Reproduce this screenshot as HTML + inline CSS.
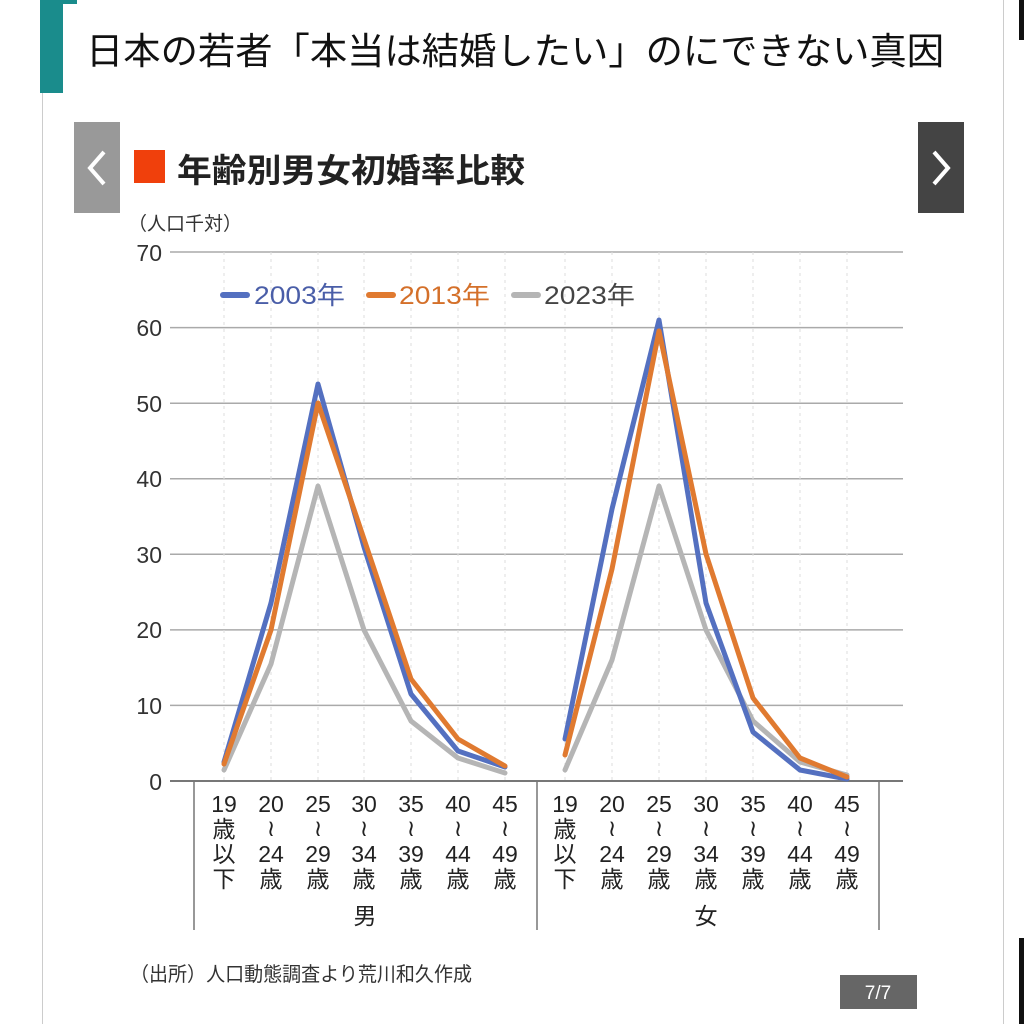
<!DOCTYPE html>
<html><head><meta charset="utf-8"><style>
body{margin:0;width:1024px;height:1024px;background:#fff;overflow:hidden;font-family:"Liberation Sans","Noto Sans CJK JP",sans-serif;}
</style></head><body>
<svg width="1024" height="1024" xmlns="http://www.w3.org/2000/svg" style="position:absolute;left:0;top:0" font-family="Liberation Sans, Noto Sans CJK JP, sans-serif">
<rect x="0" y="0" width="1024" height="1024" fill="#fff"/>
<line x1="42.5" y1="0" x2="42.5" y2="1024" stroke="#ccc" stroke-width="1"/>
<line x1="1003.5" y1="0" x2="1003.5" y2="1024" stroke="#ccc" stroke-width="1"/>
<rect x="1019" y="0" width="5" height="40" fill="#111"/>
<rect x="1019" y="938" width="5" height="86" fill="#111"/>
<rect x="40" y="0" width="23" height="93" fill="#1a8c8c"/>
<rect x="63" y="0" width="14" height="4" fill="#1a8c8c"/>
<text x="86" y="64" font-size="37" fill="#111" textLength="858" lengthAdjust="spacingAndGlyphs">日本の若者「本当は結婚したい」のにできない真因</text>
<rect x="74" y="122" width="46" height="91" fill="#999"/>
<polyline points="104,152 90,168 104,184" fill="none" stroke="#fff" stroke-width="4"/>
<rect x="918" y="122" width="46" height="91" fill="#444"/>
<polyline points="934,152 948,168 934,184" fill="none" stroke="#fff" stroke-width="4"/>
<rect x="134" y="150" width="31" height="33" fill="#f0400c"/>
<text x="177" y="182" font-size="33" font-weight="bold" fill="#222" textLength="348" lengthAdjust="spacingAndGlyphs">年齢別男女初婚率比較</text>
<text x="128" y="230" font-size="19" fill="#333">（人口千対）</text>
<g stroke="#aaa" stroke-width="1.5">
<line x1="170" y1="252" x2="903" y2="252"/><line x1="170" y1="327.6" x2="903" y2="327.6"/>
<line x1="170" y1="403.2" x2="903" y2="403.2"/><line x1="170" y1="478.7" x2="903" y2="478.7"/>
<line x1="170" y1="554.3" x2="903" y2="554.3"/><line x1="170" y1="629.9" x2="903" y2="629.9"/>
<line x1="170" y1="705.4" x2="903" y2="705.4"/>
</g>
<g stroke="#ddd" stroke-width="1" stroke-dasharray="3,4">
<line x1="224" y1="252" x2="224" y2="781"/><line x1="271" y1="252" x2="271" y2="781"/><line x1="318" y1="252" x2="318" y2="781"/><line x1="364" y1="252" x2="364" y2="781"/><line x1="411" y1="252" x2="411" y2="781"/><line x1="458" y1="252" x2="458" y2="781"/><line x1="505" y1="252" x2="505" y2="781"/>
<line x1="565" y1="252" x2="565" y2="781"/><line x1="612" y1="252" x2="612" y2="781"/><line x1="659" y1="252" x2="659" y2="781"/><line x1="706" y1="252" x2="706" y2="781"/><line x1="753" y1="252" x2="753" y2="781"/><line x1="800" y1="252" x2="800" y2="781"/><line x1="847" y1="252" x2="847" y2="781"/>
</g>
<line x1="170" y1="781" x2="903" y2="781" stroke="#777" stroke-width="2"/>
<g stroke="#777" stroke-width="1.5">
<line x1="194" y1="781" x2="194" y2="930"/><line x1="537" y1="781" x2="537" y2="930"/><line x1="879" y1="781" x2="879" y2="930"/>
</g>
<g font-size="23" fill="#333" text-anchor="end">
<text x="162" y="261">70</text><text x="162" y="336">60</text><text x="162" y="412">50</text><text x="162" y="487">40</text><text x="162" y="563">30</text><text x="162" y="638">20</text><text x="162" y="714">10</text><text x="162" y="790">0</text>
</g>
<line x1="223" y1="295" x2="247" y2="295" stroke="#5470c0" stroke-width="6" stroke-linecap="round"/>
<text x="254" y="304" font-size="25" fill="#4a5ea8" textLength="91" lengthAdjust="spacingAndGlyphs">2003年</text>
<line x1="369" y1="295" x2="393" y2="295" stroke="#e07a30" stroke-width="6" stroke-linecap="round"/>
<text x="399" y="304" font-size="25" fill="#d4702a" textLength="91" lengthAdjust="spacingAndGlyphs">2013年</text>
<line x1="514" y1="295" x2="538" y2="295" stroke="#b5b5b5" stroke-width="6" stroke-linecap="round"/>
<text x="544" y="304" font-size="25" fill="#444" textLength="91" lengthAdjust="spacingAndGlyphs">2023年</text>
<g fill="none" stroke-width="5" stroke-linejoin="round" stroke-linecap="round">
<polyline stroke="#b5b5b5" points="224,770 271,664 318,486 364,630 411,721 458,758 505,773"/>
<polyline stroke="#b5b5b5" points="565,770 612,660 659,486 706,630 753,721 800,762 847,775"/>
<polyline stroke="#5470c0" points="224,762 271,603 318,384 364,547 411,694 458,751 505,767"/>
<polyline stroke="#5470c0" points="565,739 612,509 659,320 706,603 753,732 800,770 847,779"/>
<polyline stroke="#e07a30" points="224,764 271,630 318,403 364,539 411,679 458,739 505,766"/>
<polyline stroke="#e07a30" points="565,755 612,569 659,331 706,554 753,698 800,758 847,777"/>
</g>
<g font-size="23" fill="#222" text-anchor="middle">
<text x="224" y="812">19</text><text x="224" y="837">歳</text><text x="224" y="862">以</text><text x="224" y="887">下</text>
<text x="565" y="812">19</text><text x="565" y="837">歳</text><text x="565" y="862">以</text><text x="565" y="887">下</text>
<text x="271" y="812">20</text><text x="271" y="836">≀</text><text x="271" y="862">24</text><text x="271" y="887">歳</text>
<text x="318" y="812">25</text><text x="318" y="836">≀</text><text x="318" y="862">29</text><text x="318" y="887">歳</text>
<text x="364" y="812">30</text><text x="364" y="836">≀</text><text x="364" y="862">34</text><text x="364" y="887">歳</text>
<text x="411" y="812">35</text><text x="411" y="836">≀</text><text x="411" y="862">39</text><text x="411" y="887">歳</text>
<text x="458" y="812">40</text><text x="458" y="836">≀</text><text x="458" y="862">44</text><text x="458" y="887">歳</text>
<text x="505" y="812">45</text><text x="505" y="836">≀</text><text x="505" y="862">49</text><text x="505" y="887">歳</text>
<text x="612" y="812">20</text><text x="612" y="836">≀</text><text x="612" y="862">24</text><text x="612" y="887">歳</text>
<text x="659" y="812">25</text><text x="659" y="836">≀</text><text x="659" y="862">29</text><text x="659" y="887">歳</text>
<text x="706" y="812">30</text><text x="706" y="836">≀</text><text x="706" y="862">34</text><text x="706" y="887">歳</text>
<text x="753" y="812">35</text><text x="753" y="836">≀</text><text x="753" y="862">39</text><text x="753" y="887">歳</text>
<text x="800" y="812">40</text><text x="800" y="836">≀</text><text x="800" y="862">44</text><text x="800" y="887">歳</text>
<text x="847" y="812">45</text><text x="847" y="836">≀</text><text x="847" y="862">49</text><text x="847" y="887">歳</text>
<text x="365" y="924">男</text><text x="706" y="924">女</text>
</g>
<text x="130" y="981" font-size="20" fill="#333" textLength="342" lengthAdjust="spacingAndGlyphs">（出所）人口動態調査より荒川和久作成</text>
<rect x="840" y="975" width="77" height="34" fill="#666"/>
<text x="878" y="999" font-size="19" fill="#fff" text-anchor="middle">7/7</text>
</svg>
</body></html>
